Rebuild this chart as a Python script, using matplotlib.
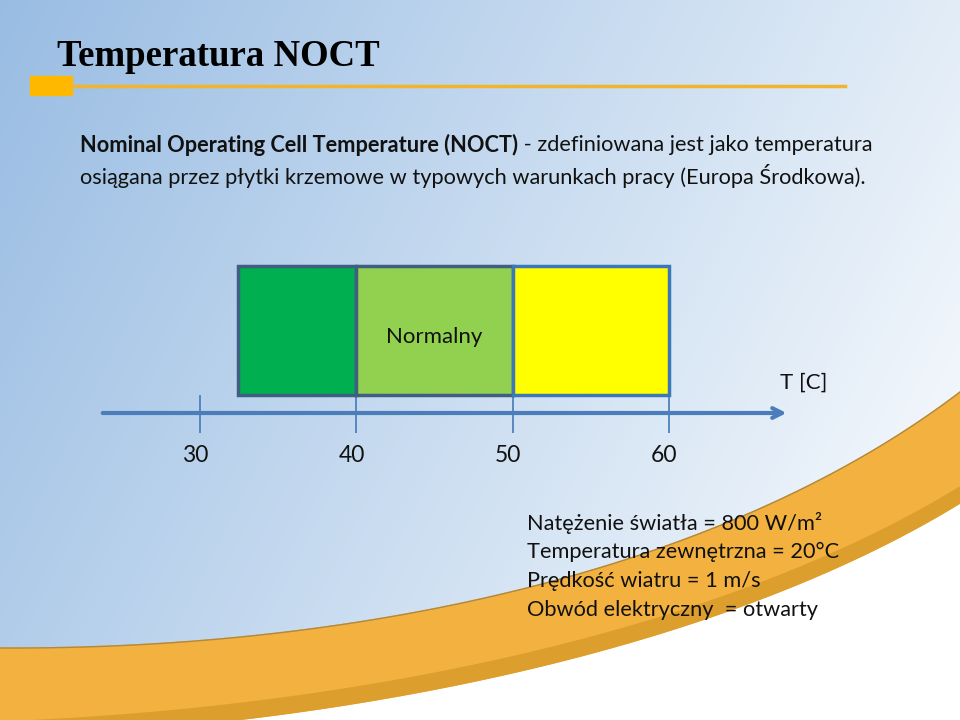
import numpy as np
import matplotlib
matplotlib.use("Agg")
import matplotlib.pyplot as plt

# temperature scale data
ticks = [30, 40, 50, 60]
tick_labels = ["30", "40", "50", "60"]
zone_edges = [32.4, 40, 50, 60]
zone_colors = ["#00B050", "#92D050", "#FFFF00"]
zone_edgecolors = ["#3E5F81", "#3E5F81", "#3C78B8"]
zone_labels = ["", "Normalny", ""]
axis_start = 23.6
axis_end = 67.7

title = "Temperatura NOCT"
intro_bold = "Nominal Operating Cell Temperature (NOCT)"
intro_rest = " - zdefiniowana jest jako temperatura"
intro_line2 = "osiągana przez płytki krzemowe w typowych warunkach pracy (Europa Środkowa)."
conditions = [
    "Natężenie światła = 800 W/m²",
    "Temperatura zewnętrzna = 20°C",
    "Prędkość wiatru = 1 m/s",
    "Obwód elektryczny  = otwarty",
]

W, H = 960, 720
SANS = ["Lato", "DejaVu Sans"]
FS = 15.7


def bezier(p0, p1, p2, p3, n=200):
    t = np.linspace(0, 1, n)[:, None]
    p0, p1, p2, p3 = map(np.array, (p0, p1, p2, p3))
    return (1-t)**3*p0 + 3*(1-t)**2*t*p1 + 3*(1-t)*t**2*p2 + t**3*p3


fig = plt.figure(figsize=(9.6, 7.2), dpi=100)
bg = fig.add_axes([0, 0, 1, 1])
bg.set_xlim(0, W)
bg.set_ylim(H, 0)
bg.axis("off")

# background gradient
yy, xx = np.mgrid[0:H:4, 0:W:4]
t = np.clip(0.8*xx/W + 0.3*yy/H, 0, 1)[..., None]
c0 = np.array([0.60, 0.74, 0.89])
c1 = np.array([0.96, 0.975, 0.99])
img = c0 + (c1 - c0)*t
bg.imshow(img, extent=[0, W, H, 0], aspect="auto", zorder=0)

# orange swoosh
upper = bezier((0, 648), (350, 650), (720, 575), (960, 392))
lower = bezier((960, 503), (720, 650), (350, 725), (0, 738))
strip_top = bezier((960, 487), (720, 634), (350, 709), (0, 722))
white = np.vstack([lower, [[0, H + 20], [W, H + 20]]])
bg.fill(white[:, 0], white[:, 1], color="white", zorder=1)
band = np.vstack([upper, lower])
bg.fill(band[:, 0], band[:, 1], color="#F3B23F", zorder=2)
strip = np.vstack([strip_top[::-1], lower])
bg.fill(strip[:, 0], strip[:, 1], color="#DC9E2C", zorder=2)
bg.plot(upper[:, 0], upper[:, 1], color="#B08840", lw=1, zorder=3)

# title with yellow marker
bg.text(57, 56, title, family="Liberation Serif", weight="bold", fontsize=26.5,
        va="center", ha="left", color="black", zorder=5)
bg.add_patch(plt.Rectangle((30, 76), 42, 19, color="#FFB800", zorder=4))
bg.plot([72, 845], [85.5, 85.5], color="#F0B42E", lw=2.5, zorder=4)

# intro paragraph
b = bg.text(80, 145, intro_bold, family=SANS, weight="bold", fontsize=FS,
            va="center", ha="left", color="#111111", zorder=5)
bg.annotate(intro_rest, xy=(1, 0.5), xycoords=b, va="center", ha="left",
            family=SANS, fontsize=FS, color="#111111", zorder=5)
bg.text(80, 176, intro_line2, family=SANS, fontsize=FS, va="center",
        ha="left", color="#111111", zorder=5)

# conditions list
for i, line in enumerate(conditions):
    bg.text(527, 523 + 29*i, line, family=SANS, fontsize=FS, va="center",
            ha="left", color="#111111", zorder=5)

# temperature scale axes (data in degrees C, vertical in pixels)
px_per_deg = (669 - 200)/30
ax = fig.add_axes([0, 0, 1, 1])
ax.set_xlim(30 - 200/px_per_deg, 30 + (W - 200)/px_per_deg)
ax.set_ylim(H, 0)
ax.axis("off")
ax.patch.set_alpha(0)

box_top, box_bottom = 266, 395
for i in range(len(zone_colors)):
    x0, x1 = zone_edges[i], zone_edges[i+1]
    ax.bar(x0, box_bottom - box_top, width=x1 - x0, bottom=box_top, align="edge",
           color=zone_colors[i], edgecolor=zone_edgecolors[i], linewidth=2.5, zorder=6)
    if zone_labels[i]:
        ax.text((x0 + x1)/2, 337, zone_labels[i], family=SANS, fontsize=16,
                ha="center", va="center", color="#111111", zorder=7)

ax.vlines(ticks, box_bottom, 433, color="#4F81BD", lw=1.3, zorder=5)
ax.annotate("", xy=(axis_end, 413), xytext=(axis_start, 413),
            arrowprops=dict(arrowstyle="->, head_length=0.7, head_width=0.35",
                            color="#4A7DBA", lw=3), zorder=5)
for tk, lab in zip(ticks, tick_labels):
    ax.text(tk - 0.3, 456, lab, family=SANS, fontsize=16.5, ha="center",
            va="center", color="#111111", zorder=7)
ax.text(axis_end + 0.9, 383, "T [C]", family=SANS, fontsize=16, ha="center",
        va="center", color="#111111", zorder=7)

fig.savefig("out.png", dpi=100)
